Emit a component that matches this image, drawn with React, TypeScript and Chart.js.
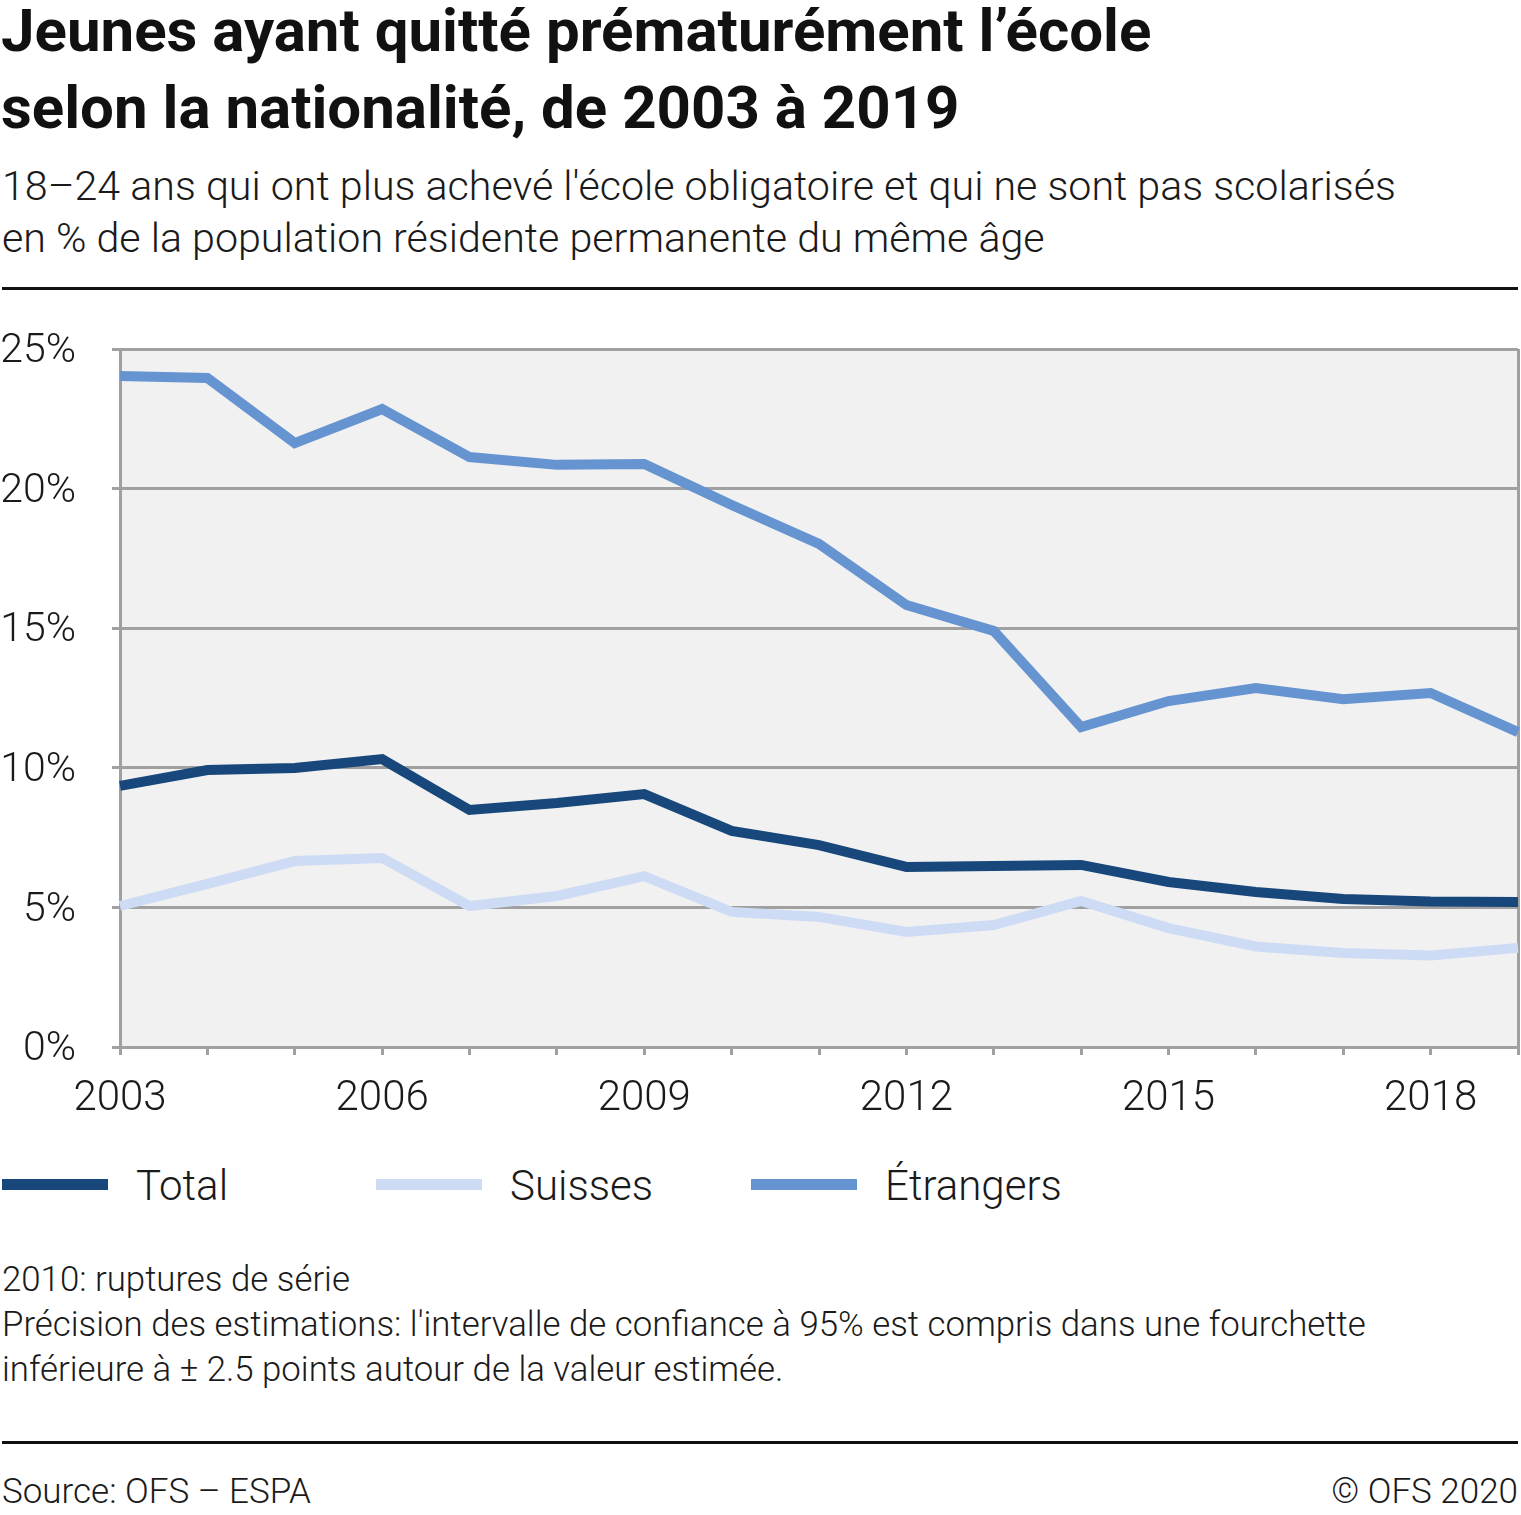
import React, { useEffect, useRef } from "react";
import { Chart, registerables } from "chart.js";

Chart.register(...registerables);

const years = ["2003","2004","2005","2006","2007","2008","2009","2010","2011","2012","2013","2014","2015","2016","2017","2018","2019"];
const total = [9.35, 9.92, 9.99, 10.31, 8.49, 8.74, 9.06, 7.74, 7.23, 6.45, 6.48, 6.52, 5.91, 5.55, 5.30, 5.21, 5.19];
const suisses = [5.05, 5.84, 6.66, 6.77, 5.05, 5.41, 6.12, 4.84, 4.66, 4.12, 4.37, 5.23, 4.26, 3.60, 3.37, 3.28, 3.55];
const etrangers = [24.03, 23.96, 21.63, 22.85, 21.13, 20.85, 20.88, 19.41, 18.02, 15.83, 14.90, 11.46, 12.39, 12.86, 12.46, 12.68, 11.28];
const yTicks = [0, 5, 10, 15, 20, 25];

const C_TOTAL = "#17477b";
const C_SUISSES = "#cddcf4";
const C_ETR = "#6694d0";
const GRID = "#a0a0a0";
const TEXT = "#1a1a1a";
const FONT = "Roboto, 'Noto Sans', sans-serif";

const bgPlugin = {
  id: "plotBg",
  beforeDraw(chart: any) {
    const { ctx, chartArea } = chart;
    if (!chartArea) return;
    ctx.save();
    ctx.fillStyle = "#f1f1f1";
    ctx.fillRect(chartArea.left, chartArea.top, chartArea.right - chartArea.left, chartArea.bottom - chartArea.top);
    ctx.restore();
  },
};

function LineChart() {
  const ref = useRef<HTMLCanvasElement | null>(null);
  useEffect(() => {
    if (!ref.current) return;
    const chart = new Chart(ref.current, {
      type: "line",
      data: {
        labels: years,
        datasets: [
          { label: "Étrangers", data: etrangers, borderColor: C_ETR, backgroundColor: C_ETR, borderWidth: 10, pointRadius: 0, tension: 0, borderJoinStyle: "miter", borderCapStyle: "butt" },
          { label: "Suisses", data: suisses, borderColor: C_SUISSES, backgroundColor: C_SUISSES, borderWidth: 10, pointRadius: 0, tension: 0, borderJoinStyle: "miter", borderCapStyle: "butt" },
          { label: "Total", data: total, borderColor: C_TOTAL, backgroundColor: C_TOTAL, borderWidth: 10, pointRadius: 0, tension: 0, borderJoinStyle: "miter", borderCapStyle: "butt" },
        ],
      },
      options: {
        animation: false,
        responsive: false,
        maintainAspectRatio: false,
        devicePixelRatio: 1,
        layout: { padding: { top: 49, right: 3, left: 0, bottom: 0 } },
        plugins: { legend: { display: false }, tooltip: { enabled: false }, title: { display: false } },
        scales: {
          x: {
            type: "category",
            offset: false,
            afterFit(scale: any) {
              scale.height = 70;
              scale.paddingLeft = 0;
              scale.paddingRight = 0;
            },
            grid: {
              display: true,
              drawOnChartArea: true,
              drawTicks: true,
              tickLength: 8,
              lineWidth: 3,
              color: (c: any) => (c.index === 0 || c.index === years.length - 1 ? GRID : "rgba(0,0,0,0)"),
              tickColor: GRID,
              tickWidth: 3,
            },
            border: { display: true, color: GRID, width: 3 },
            ticks: {
              autoSkip: false,
              maxRotation: 0,
              minRotation: 0,
              padding: 19,
              color: TEXT,
              font: { family: FONT, size: 42, weight: 300 as any },
              callback: (_v: any, i: number) => (i % 3 === 0 ? years[i] : ""),
            },
          },
          y: {
            min: 0,
            max: 25,
            afterFit(scale: any) {
              scale.width = 120;
              scale.paddingTop = 0;
              scale.paddingBottom = 0;
            },
            afterBuildTicks(scale: any) { scale.ticks = yTicks.map((v) => ({ value: v })); },
            grid: { display: true, color: GRID, lineWidth: 3, tickLength: 8, drawTicks: true },
            border: { display: true, color: GRID, width: 3 },
            ticks: {
              padding: 36,
              labelOffset: 3,
              color: TEXT,
              font: { family: FONT, size: 41, weight: 300 as any },
              callback: (v: any) => `${v}%`,
            },
          },
        },
      },
      plugins: [bgPlugin],
    });
    return () => chart.destroy();
  }, []);
  return <canvas ref={ref} width={1521} height={817} style={{ position: "absolute", left: 0, top: 300, width: 1521, height: 817 }} />;
}

const abs = (top: number, left: number, extra: React.CSSProperties = {}): React.CSSProperties => ({ position: "absolute", top, left, margin: 0, whiteSpace: "nowrap", ...extra });

function LegendItem({ x, color, label }: { x: number; color: string; label: string }) {
  return (
    <>
      <div style={abs(1179, x, { width: 106, height: 11, background: color })} />
      <div style={abs(1162, x + 134, { fontFamily: FONT, fontSize: 42, fontWeight: 300, lineHeight: "48px", color: TEXT })}>{label}</div>
    </>
  );
}

export default function App() {
  useEffect(() => {
    document.body.style.margin = "0";
  }, []);
  return (
    <div style={{ position: "relative", width: 1521, height: 1515, background: "#fff", overflow: "hidden", color: TEXT }}>
      <div style={abs(-8, 1, { fontFamily: FONT, fontSize: 60, fontWeight: 700, lineHeight: "77px", color: "#111" })}>
        Jeunes ayant quitté prématurément l’école<br />selon la nationalité, de 2003 à 2019
      </div>
      <div style={abs(160, 2, { fontFamily: FONT, fontSize: 41.2, fontWeight: 300, lineHeight: "52px" })}>
        18–24 ans qui ont plus achevé l'école obligatoire et qui ne sont pas scolarisés<br />en % de la population résidente permanente du même âge
      </div>
      <div style={abs(287, 2, { width: 1516, height: 3, background: "#111" })} />
      <LineChart />
      <LegendItem x={2} color={C_TOTAL} label="Total" />
      <LegendItem x={376} color={C_SUISSES} label="Suisses" />
      <LegendItem x={751} color={C_ETR} label="Étrangers" />
      <div style={abs(1257, 2, { fontFamily: FONT, fontSize: 34.8, fontWeight: 300, lineHeight: "45px" })}>
        2010: ruptures de série<br />Précision des estimations: l'intervalle de confiance à 95% est compris dans une fourchette<br />inférieure à ± 2.5 points autour de la valeur estimée.
      </div>
      <div style={abs(1441, 2, { width: 1516, height: 3, background: "#111" })} />
      <div style={abs(1469, 2, { fontFamily: FONT, fontSize: 35, fontWeight: 300, lineHeight: "45px" })}>Source: OFS – ESPA</div>
      <div style={{ position: "absolute", top: 1469, right: 3, whiteSpace: "nowrap", fontFamily: FONT, fontSize: 35, fontWeight: 300, lineHeight: "45px" }}>© OFS 2020</div>
    </div>
  );
}
